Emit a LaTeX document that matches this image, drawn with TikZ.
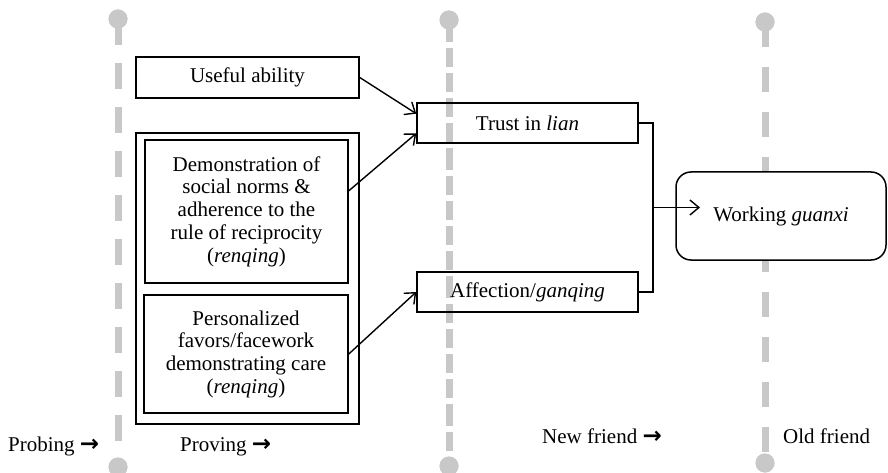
\documentclass[tikz,border=0pt]{standalone}
\usepackage{fontspec}
\setmainfont{Liberation Serif}
\newfontfamily\arrowfont{DejaVu Sans}
\usetikzlibrary{arrows.meta,calc}
\definecolor{lg}{RGB}{200,200,200}
\begin{document}
\begin{tikzpicture}[x=1pt,y=-1pt,
 box/.style={draw, line width=1.5pt, align=center, inner sep=0pt, font=\fontsize{21}{22.7}\selectfont},
 arr/.style={line width=1.4pt, -{Straight Barb[length=9pt,width=15pt,line width=1.4pt]}},
 guide/.style={line width=7pt, draw=lg},
 dot/.style={circle, fill=lg, minimum size=19pt, inner sep=0pt},
 lab/.style={anchor=base west, font=\fontsize{21}{22.7}\selectfont, inner sep=0pt}]
\useasboundingbox (0,0) rectangle (888,473);
% guide lines
\node[dot] (t1) at (118,19) {};
\node[dot] (b1) at (118,467) {};
\node[dot] (t2) at (449,20) {};
\node[dot] (b2) at (449,466) {};
\node[dot] (t3) at (765,22) {};
\node[dot] (b3) at (765,463) {};
\draw[guide, dash pattern=on 26pt off 18pt] (t1.center) -- (b1.center);
\draw[guide, dash pattern=on 22pt off 6pt on 19pt off 6pt on 19pt off 6pt on 19pt off 6pt on 19pt off 6pt] (t2.center) -- (b2.center);
\draw[guide, dash pattern=on 25pt off 20pt] (t3.center) -- (b3.center);
\node[dot] at (t1) {};
\node[dot] at (b1) {};
\node[dot] at (t2) {};
\node[dot] at (b2) {};
\node[dot] at (t3) {};
\node[dot] at (b3) {};
% boxes
\node[box, minimum width=223pt, minimum height=41pt] (useful) at (247.5,77.5) {Useful ability};
\node[box, minimum width=223pt, minimum height=291pt] (outer) at (247.5,278.5) {};
\node[box, minimum width=203pt, minimum height=143pt] (demo) at (246.5,211.5)
  {Demonstration of\\social norms \&\\adherence to the\\rule of reciprocity\\(\textit{renqing})};
\node[box, minimum width=204pt, minimum height=118pt] (pers) at (246,354)
  {Personalized\\favors/facework\\demonstrating care\\(\textit{renqing})};
\node[box, minimum width=221pt, minimum height=40pt] (trust) at (527.5,123) {Trust in \textit{lian}};
\node[box, minimum width=221pt, minimum height=40pt] (affect) at (527.5,292) {Affection/\textit{ganqing}};
\node[box, fill=white, rounded corners=15pt, minimum width=210pt, minimum height=88pt] (work) at (781,216) {Working \textit{guanxi}};
% arrows
\draw[arr] (useful.east) -- ($(trust.north west)!0.275!(trust.south west)$);
\draw[arr] ($(demo.north east)!0.357!(demo.south east)$) -- ($(trust.north west)!0.75!(trust.south west)$);
\draw[arr] (pers.east) -- (affect.west);
\draw[line width=1.5pt] (trust.east) -- ++(14,0) coordinate (bt) |- (affect.east);
\coordinate (bm) at ($(bt)!0.5!(bt |- affect.east)$);
\coordinate (tip) at (700,207.5);
\draw[arr] (bm) -- (tip);
% labels
\node[lab] (l1) at (8,451) {Probing {\arrowfont\bfseries\fontsize{23}{23}\selectfont →}};
\node[lab] (l2) at (180,451) {Proving {\arrowfont\bfseries\fontsize{23}{23}\selectfont →}};
\node[lab] (l3) at (542,443) {New friend {\arrowfont\bfseries\fontsize{23}{23}\selectfont →}};
\node[lab] (l4) at (783,443) {Old friend};
\end{tikzpicture}
\end{document}
